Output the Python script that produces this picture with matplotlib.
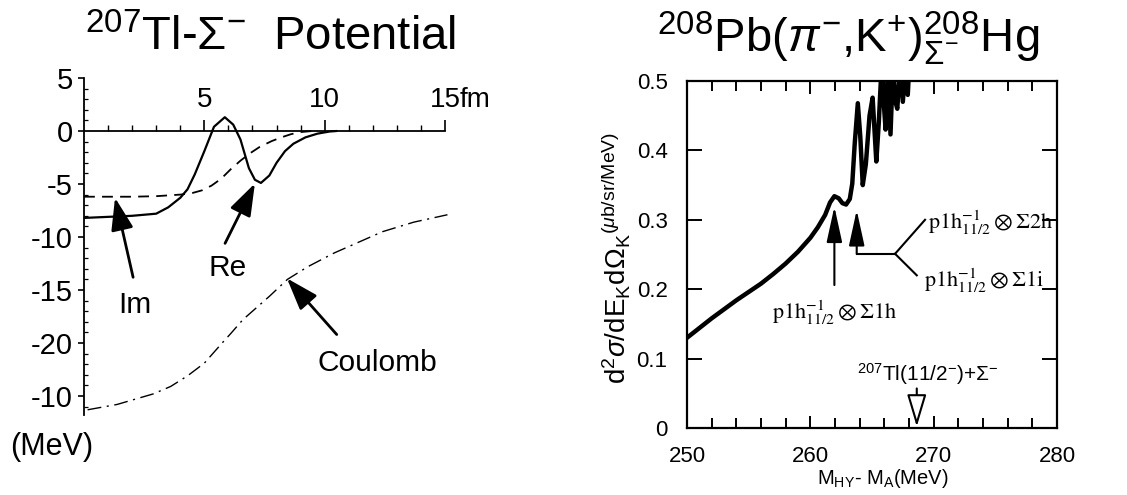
import numpy as np
import matplotlib
matplotlib.use("Agg")
import matplotlib.pyplot as plt
import matplotlib.transforms as mtransforms
from matplotlib.ticker import FixedLocator, MultipleLocator

# ---- left panel: 207Tl - Sigma- potential (r in fm, V in MeV) ----
r_re = [0, 1, 2, 3, 3.5, 4.0, 4.3, 4.6, 5.0, 5.4, 5.85, 6.2, 6.5, 6.85,
        7.1, 7.35, 7.7, 8.0, 8.35, 8.7, 9.2, 9.7, 10.2, 10.5]
v_re = [-8.2, -8.1, -8.0, -7.8, -7.2, -6.3, -5.5, -4.1, -1.9, 0.4, 1.3, 0.6,
        -0.8, -3.5, -4.6, -4.9, -4.2, -3.0, -1.9, -1.2, -0.6, -0.25, -0.05, 0]

r_im = [0, 1, 2, 3, 4.0, 4.5, 4.9, 5.3, 5.7, 6.1, 6.5, 6.9, 7.3, 7.8,
        8.2, 8.6, 9.0, 9.5]
v_im = [-6.2, -6.2, -6.2, -6.15, -6.0, -5.85, -5.6, -5.15, -4.5, -3.6, -2.8,
        -2.1, -1.5, -0.95, -0.6, -0.3, -0.1, 0]

r_coul = [0.15, 1.37, 2.88, 3.6, 4.3, 5.0, 5.7, 6.1, 6.6, 7.05, 7.7, 8.45,
          9.3, 10.4, 11.4, 12.4, 13.7, 15.1]
v_coul = [-26.3, -25.8, -24.8, -24.1, -23.1, -21.9, -20.1, -19.1, -17.8,
          -16.9, -15.6, -14.0, -12.8, -11.5, -10.5, -9.5, -8.6, -7.9]

left_yticks = [5, 0, -5, -10, -15, -20, -25]
left_ylabels = ['5', '0', '-5', '-10', '-15', '-20', '-10']
left_xticks = [5, 10, 15]
left_xlabels = ['5', '10', '15']

# ---- right panel: 208Pb(pi-,K+) spectrum ----
e_hy = [250, 251, 252, 253, 254, 255, 256, 257, 258, 259, 260, 260.6, 261.2,
        261.6, 261.95, 262.3, 262.6, 262.9, 263.2, 263.4, 263.6, 263.85,
        264.05, 264.25, 264.5, 264.8, 265.05, 265.2, 265.35, 265.55, 265.8,
        265.95, 266.1, 266.3, 266.5, 266.7, 266.9, 267.05, 267.3, 267.5,
        267.7, 267.9, 268.1, 268.3]
xsec = [0.130, 0.144, 0.158, 0.171, 0.184, 0.196, 0.208, 0.222, 0.237, 0.254,
        0.274, 0.289, 0.307, 0.325, 0.334, 0.331, 0.324, 0.322, 0.330, 0.352,
        0.410, 0.468, 0.420, 0.350, 0.380, 0.450, 0.476, 0.430, 0.384, 0.440,
        0.530, 0.470, 0.430, 0.520, 0.423, 0.520, 0.470, 0.460, 0.530, 0.470,
        0.520, 0.480, 0.550, 0.600]

right_xticks = [250, 260, 270, 280]
right_yticks = [0, 0.1, 0.2, 0.3, 0.4, 0.5]
right_ylabels = ['0', '0.1', '0.2', '0.3', '0.4', '0.5']

plt.rcParams['font.family'] = ['Liberation Sans', 'DejaVu Sans']
plt.rcParams['mathtext.fontset'] = 'custom'
plt.rcParams['mathtext.rm'] = 'Liberation Sans'
plt.rcParams['mathtext.it'] = 'Liberation Sans:italic'
plt.rcParams['mathtext.bf'] = 'Liberation Sans:bold'

W, H = 1127, 495
fig = plt.figure(figsize=(W / 100, H / 100), dpi=100)

# left axes: r=0 at px 84, 24.07 px/fm ; V=0 at py 131, 10.6 px/MeV
x0, pxfm = 84, 24.07
y0, pxmev = 131, 10.6
ylo, yhi = -28, 7
xlo, xhi = 0, 15.5
ax1 = fig.add_axes([x0 / W, (H - (y0 - ylo * pxmev)) / H,
                    (xhi - xlo) * pxfm / W, (yhi - ylo) * pxmev / H])
ax1.set_xlim(xlo, xhi)
ax1.set_ylim(ylo, yhi)
ax1.patch.set_visible(False)

ax1.plot(r_re, v_re, color='k', lw=1.6, solid_capstyle='round')
ax1.plot(r_im, v_im, color='k', lw=1.3, dashes=(6, 4))
ax1.plot(r_coul, v_coul, color='k', lw=1.0, dashes=(10, 4, 1.5, 4), clip_on=False)

ax1.spines['right'].set_visible(False)
ax1.spines['bottom'].set_visible(False)
ax1.spines['top'].set_position(('data', 0))
ax1.spines['top'].set_bounds(0, 15)
ax1.spines['left'].set_bounds(-26.8, 5)
for s in ('top', 'left'):
    ax1.spines[s].set_linewidth(1.3)

ax1.xaxis.set_ticks_position('top')
ax1.set_xticks(left_xticks)
ax1.set_xticklabels(left_xlabels)
ax1.xaxis.set_minor_locator(FixedLocator(range(1, 15)))
ax1.tick_params(axis='x', which='major', direction='out', length=8, width=1.2,
                pad=5, labelsize=20)
ax1.tick_params(axis='x', which='minor', direction='out', length=4, width=1)
ax1.set_yticks(left_yticks)
ax1.set_yticklabels(left_ylabels)
ax1.yaxis.set_minor_locator(FixedLocator(range(-26, 5)))
ax1.tick_params(axis='y', which='major', direction='out', length=4, width=1.2,
                pad=4, labelsize=21)
ax1.tick_params(axis='y', which='minor', direction='in', length=3, width=0.9)

fm_tr = mtransforms.offset_copy(ax1.transData, fig=fig, x=0, y=13, units='points')
ax1.text(15.62, 0, 'fm', transform=fm_tr, fontsize=20, ha='left', va='bottom')

arrow_kw = dict(arrowstyle='-|>,head_length=1.1,head_width=0.38', color='k',
                lw=2, mutation_scale=18, shrinkA=0, shrinkB=0)
ax1.annotate('', xy=(1.29, -6.3), xytext=(2.04, -13.8), arrowprops=arrow_kw)
ax1.annotate('', xy=(7.1, -4.95), xytext=(5.86, -10.6), arrowprops=arrow_kw)
ax1.annotate('', xy=(8.43, -13.9), xytext=(10.5, -19.2), arrowprops=arrow_kw)
ax1.text(2.1, -16.4, 'Im', fontsize=21.5, ha='center', va='center')
ax1.text(5.95, -12.9, 'Re', fontsize=21.5, ha='center', va='center')
ax1.text(12.2, -21.9, 'Coulomb', fontsize=21.5, ha='center', va='center')

fig.text(52 / W, 1 - 447 / H, '(MeV)', fontsize=22, ha='center', va='center')
fig.text(271 / W, 1 - 38 / H, r'$^{207}$Tl-$\Sigma^{-}$  Potential',
         fontsize=34, ha='center', va='center')

# right axes: box from px 687..1057 x, 81..428 y
ax2 = fig.add_axes([687 / W, (H - 428) / H, 370 / W, 347 / H])
ax2.set_xlim(250, 280)
ax2.set_ylim(0, 0.5)
ax2.plot(e_hy, xsec, color='k', lw=3.2, solid_joinstyle='round')
for s in ax2.spines.values():
    s.set_linewidth(1.6)
ax2.set_xticks(right_xticks)
ax2.xaxis.set_minor_locator(MultipleLocator(2))
ax2.set_yticks(right_yticks)
ax2.set_yticklabels(right_ylabels)
ax2.tick_params(which='both', direction='in', top=True, right=True, width=1.4)
ax2.tick_params(axis='x', which='major', length=9, pad=13, labelsize=16)
ax2.tick_params(axis='x', which='minor', length=7)
ax2.tick_params(axis='y', which='major', length=11, pad=14, labelsize=16)

up_kw = dict(arrowstyle='-|>,head_length=1.1,head_width=0.24', color='k',
             lw=1.5, mutation_scale=20, shrinkA=0, shrinkB=0)
ax2.annotate('', xy=(261.95, 0.319), xytext=(261.95, 0.206), arrowprops=up_kw)
ax2.annotate('', xy=(263.76, 0.314), xytext=(263.76, 0.251), arrowprops=up_kw)
ax2.plot([263.76, 266.87], [0.251, 0.251], color='k', lw=1.5)
ax2.plot([266.87, 269.3], [0.251, 0.300], color='k', lw=1.5)
ax2.plot([266.87, 268.63], [0.251, 0.220], color='k', lw=1.5)

ax2.text(269.5, 0.296, r'$\mathrm{p1h}^{-1}_{11/2}\otimes\Sigma\mathrm{2h}$',
         math_fontfamily='stix', fontsize=16, ha='left', va='center')
ax2.text(269.2, 0.212, r'$\mathrm{p1h}^{-1}_{11/2}\otimes\Sigma\mathrm{1i}$',
         math_fontfamily='stix', fontsize=16, ha='left', va='center')
ax2.text(256.9, 0.166, r'$\mathrm{p1h}^{-1}_{11/2}\otimes\Sigma\mathrm{1h}$',
         math_fontfamily='stix', fontsize=16, ha='left', va='center')

ax2.annotate('', xy=(268.63, 0.002), xytext=(268.63, 0.057),
             arrowprops=dict(arrowstyle='-|>,head_length=1.0,head_width=0.3',
                             fc='white', ec='k', lw=1.5, mutation_scale=20,
                             shrinkA=0, shrinkB=0))
ax2.text(263.8, 0.078, r'$^{207}$Tl(11/2$^{-}$)+$\Sigma^{-}$', fontsize=15,
         ha='left', va='center')

fig.text(616 / W, 1 - 258 / H,
         r'd$^{2}\sigma$/dE$_{\rm K}$d$\Omega_{\rm K}$$^{(\mu\mathrm{b/sr/MeV})}$',
         fontsize=20, rotation=90, ha='center', va='center')
fig.text(883 / W, 1 - 478 / H, r'M$_{\rm HY}$- M$_{\rm A}$(MeV)', fontsize=14.5,
         ha='center', va='center')
fig.text(848 / W, 1 - 38 / H,
         r'$^{208}$Pb($\pi^{-}$,K$^{+}$)$^{208}_{\Sigma^{-}}$Hg',
         fontsize=34, ha='center', va='center')

fig.savefig('out.png', dpi=100, facecolor='white')
